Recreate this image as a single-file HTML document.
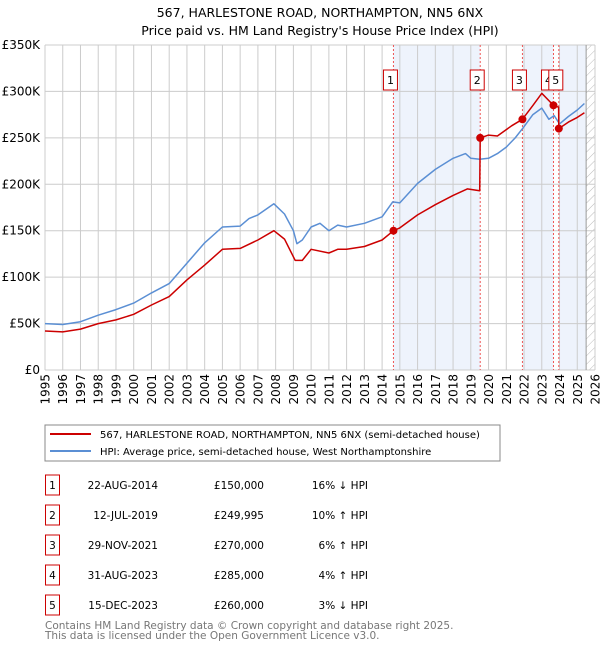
<!DOCTYPE html>
<html><head><meta charset="utf-8"><style>
body{margin:0;background:#fff;font-family:"Liberation Sans","DejaVu Sans",sans-serif;}
svg text{font-family:"DejaVu Sans","Liberation Sans",sans-serif;}
</style></head><body>
<svg id="c" width="600" height="650" xmlns="http://www.w3.org/2000/svg">
<text x="320" y="17" font-size="12.5" text-anchor="middle">567, HARLESTONE ROAD, NORTHAMPTON, NN5 6NX</text>
<text x="320" y="35" font-size="12.5" text-anchor="middle">Price paid vs. HM Land Registry's House Price Index (HPI)</text>
<defs><pattern id="hatch" width="6" height="6" patternUnits="userSpaceOnUse" patternTransform="rotate(45)"><line x1="0" y1="0" x2="0" y2="6" stroke="#bbb" stroke-width="1"/></pattern></defs>
<g id="plot"></g>
<rect x="45" y="425" width="455" height="36" fill="#fff" stroke="#888"/>
<line x1="50" y1="434" x2="91" y2="434" stroke="#cc0000" stroke-width="2"/>
<text x="100" y="438" font-size="10">567, HARLESTONE ROAD, NORTHAMPTON, NN5 6NX (semi-detached house)</text>
<line x1="50" y1="451" x2="91" y2="451" stroke="#5b8fd4" stroke-width="2"/>
<text x="100" y="455" font-size="10">HPI: Average price, semi-detached house, West Northamptonshire</text>
<g id="table" font-size="10.5"></g>
<text x="45" y="629" font-size="10.5" fill="#777">Contains HM Land Registry data © Crown copyright and database right 2025.</text>
<text x="45" y="639" font-size="10.5" fill="#777">This data is licensed under the Open Government Licence v3.0.</text>
</svg>
<script>
const hpiYears=[1995,1996,1997,1998,1999,2000,2001,2002,2003,2004,2005,2006,2006.5,2007,2007.9,2008.5,2009,2009.2,2009.5,2010,2010.5,2011,2011.5,2012,2013,2014,2014.6,2015,2016,2017,2018,2018.7,2019,2019.5,2020,2020.5,2021,2021.5,2022,2022.5,2023,2023.4,2023.7,2024,2024.5,2025,2025.4];
const hpiValues=[50,49,52,59,65,72,83,93,115,137,154,155,163,167,179,168,150,136,140,154,158,150,156,154,158,165,181,180,201,216,228,233,228,227,228,233,240,250,262,275,282,270,274,265,273,280,287];
const redYears=[1995,1996,1997,1998,1999,2000,2001,2002,2003,2004,2005,2006,2007,2007.9,2008.5,2009.1,2009.5,2010,2011,2011.5,2012,2013,2014,2014.64,2015,2016,2017,2018,2018.8,2019.5,2019.53,2020,2020.5,2021.3,2021.91,2022.5,2023,2023.66,2023.95,2023.96,2024.5,2025,2025.4];
const redValues=[42,41,44,50,54,60,70,79,97,113,130,131,140,150,141,118,118,130,126,130,130,133,140,150,153,167,178,188,195,193,250,253,252,263,270,285,298,285,283,260,267,272,277];
const saleLabels=["1","2","3","4","5"];
const saleDates=["22-AUG-2014","12-JUL-2019","29-NOV-2021","31-AUG-2023","15-DEC-2023"];
const saleYears=[2014.64,2019.53,2021.91,2023.66,2023.96];
const salePrices=["£150,000","£249,995","£270,000","£285,000","£260,000"];
const saleValues=[150,249.995,270,285,260];
const saleHpi=["16% ↓ HPI","10% ↑ HPI","6% ↑ HPI","4% ↑ HPI","3% ↓ HPI"];
const yTicks=[0,50,100,150,200,250,300,350];
const yTickLabels=["£0","£50K","£100K","£150K","£200K","£250K","£300K","£350K"];
const xTicks=[1995,1996,1997,1998,1999,2000,2001,2002,2003,2004,2005,2006,2007,2008,2009,2010,2011,2012,2013,2014,2015,2016,2017,2018,2019,2020,2021,2022,2023,2024,2025,2026];

const NS="http://www.w3.org/2000/svg";
const L=45,R=595,T=45,B=370,X0=1995,X1=2026,YMAX=350,DATA_END=2025.5;
const xs=v=>L+(v-X0)/(X1-X0)*(R-L);
const ys=v=>B-v/YMAX*(B-T);
const plot=document.getElementById('plot');
function mk(tag,attrs,parent){const e=document.createElementNS(NS,tag);for(const k in attrs)e.setAttribute(k,attrs[k]);(parent||plot).appendChild(e);return e;}
[[0,1],[2,3]].forEach(p=>{
 const r=mk('rect',{x:xs(saleYears[p[0]]),y:T,width:xs(saleYears[p[1]])-xs(saleYears[p[0]]),height:B-T,fill:'#eef3fc'});
 
 
});
{const r=mk('rect',{x:xs(saleYears[4]),y:T,width:xs(DATA_END)-xs(saleYears[4]),height:B-T,fill:'#eef3fc'});

}
{const h=mk('rect',{x:xs(DATA_END),y:T,width:R-xs(DATA_END),height:B-T,fill:'url(#hatch)'});

}
xTicks.forEach(t=>{
 const g=mk('line',{x1:xs(t),x2:xs(t),y1:T,y2:B,stroke:'#ccc','stroke-width':1});
 
 
 const tx=mk('text',{x:0,y:0,'font-size':12,'text-anchor':'end',transform:`translate(${xs(t)+4.5},374) rotate(-90)`});
 tx.textContent=t;
 
 
});
yTicks.forEach((t,i)=>{
 const g=mk('line',{x1:L,x2:R,y1:ys(t),y2:ys(t),stroke:'#ccc','stroke-width':1});
 
 
 const tx=mk('text',{x:40,y:ys(t)+4,'font-size':12,'text-anchor':'end'});
 tx.textContent=yTickLabels[i];
 
 
});
{const d=mk('line',{x1:xs(DATA_END),x2:xs(DATA_END),y1:T,y2:B,stroke:'#999','stroke-width':1});

}
saleYears.forEach(s=>{
 const l=mk('line',{x1:xs(s),x2:xs(s),y1:T,y2:B,stroke:'#ee5555','stroke-width':1,'stroke-dasharray':'2,2'});
 
 
});
function path(xv,yv,col,name){
 const d=xv.map((x,i)=>(i?'L':'M')+xs(x).toFixed(1)+','+ys(yv[i]).toFixed(1)).join('');
 const p=mk('path',{d:d,fill:'none',stroke:col,'stroke-width':1.5,'stroke-linejoin':'round'});
 
 
}
path(hpiYears,hpiValues,'#5b8fd4','hpi-line');
path(redYears,redValues,'#cc0000','price-paid-line');
saleYears.forEach((s,i)=>{
 const c=mk('circle',{cx:xs(s),cy:ys(saleValues[i]),r:4,fill:'#cc0000'});
 
 
});
const boxOff=[-3,-3,-3,-5,-3];
saleYears.forEach((s,i)=>{
 const cx=xs(s)+boxOff[i];
 const g=mk('g',{});
 
 
 mk('rect',{x:cx-7,y:70,width:14,height:20,fill:'#fff',stroke:'#cc0000','stroke-width':1},g);
 const t=mk('text',{x:cx,y:84,'font-size':11,'text-anchor':'middle'},g);
 t.textContent=saleLabels[i];
});
const tb=document.getElementById('table');
saleLabels.forEach((n,i)=>{
 const y=485+i*30;
 const g=mk('g',{},tb);
 
 
 mk('rect',{x:45.5,y:y-10,width:14,height:20,fill:'#fff',stroke:'#cc0000','stroke-width':1},g);
 let t=mk('text',{x:52.5,y:y+4,'text-anchor':'middle'},g);t.textContent=n;
 t=mk('text',{x:158,y:y+4,'text-anchor':'end'},g);t.textContent=saleDates[i];
 t=mk('text',{x:264,y:y+4,'text-anchor':'end'},g);t.textContent=salePrices[i];
 t=mk('text',{x:368,y:y+4,'text-anchor':'end'},g);t.textContent=saleHpi[i];
});
</script>
</body></html>
